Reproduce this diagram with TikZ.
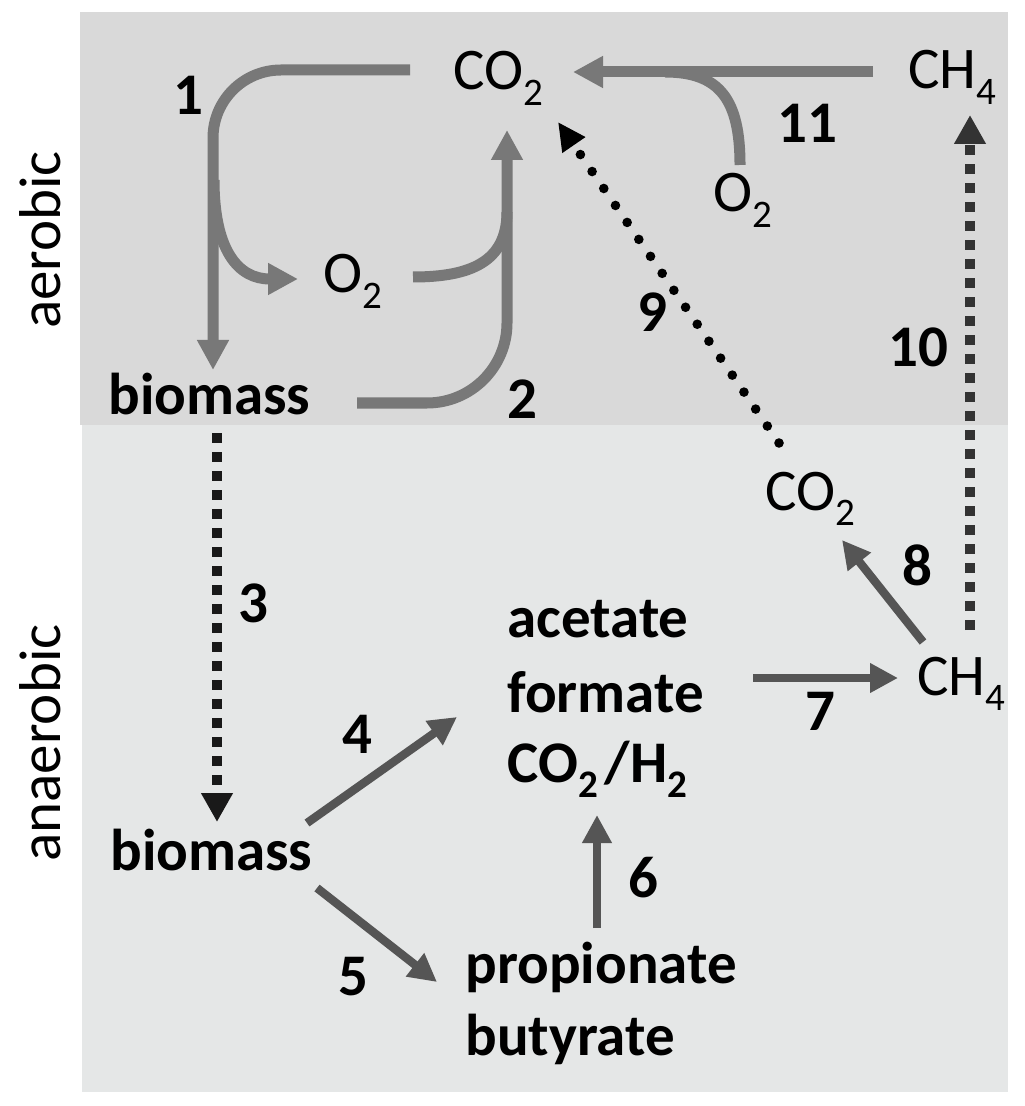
\documentclass[tikz,border=0pt]{standalone}
\usepackage{fontspec}
\setmainfont{Carlito}
\usetikzlibrary{arrows.meta}
\definecolor{aerob}{HTML}{D9D9D9}
\definecolor{anaerob}{HTML}{E5E7E7}
\definecolor{uparrow}{HTML}{787878}
\definecolor{lowarrow}{HTML}{555555}
\newcommand{\chemsub}[1]{\raisebox{-0.26em}{\fontsize{19.5pt}{20pt}\selectfont #1}}
\begin{document}
\begin{tikzpicture}[x=0.5pt,y=-0.5pt,
  lbl/.style={inner sep=0pt, font=\fontsize{29.5pt}{34pt}\selectfont},
  blbl/.style={inner sep=0pt, font=\fontsize{29.5pt}{34pt}\selectfont\bfseries},
  num/.style={blbl, anchor=base},
  txt/.style={lbl, anchor=base west},
  btxt/.style={blbl, anchor=base west},
  side/.style={lbl, anchor=base, rotate=90},
  aeroarrow/.style={draw=uparrow, line width=5.5pt, -{Triangle[length=15pt,width=15pt]}},
  aeroline/.style={draw=uparrow, line width=5.5pt},
  anarrow/.style={draw=lowarrow, line width=4.2pt, -{Triangle[length=14pt,width=14pt]}},
  sqdots/.style={line width=5pt, dash pattern=on 5pt off 4.5pt, -{Triangle[length=14.5pt,width=15pt]}},
  rddots/.style={draw=black, line width=4.8pt, line cap=round, dash pattern=on 0pt off 10.3pt, -{Triangle[length=14pt,width=13pt]}}
]
\fill[white] (0,0) rectangle (1024,1106);
\useasboundingbox (0,0) rectangle (1024,1106);
\fill[aerob] (80,12) rectangle (1008,425);
\fill[anaerob] (82,425) rectangle (1008,1092);

% side labels
\node[side] (aer) at (60,240) {aerobic};
\node[side] (anaer) at (60,743) {anaerobic};

% species
\node[txt] (co2top) at (453,90) {CO\chemsub{2}};
\node[txt] (ch4top) at (908,89) {CH\chemsub{4}};
\node[txt] (o2r) at (713,212) {O\chemsub{2}};
\node[txt] (o2l) at (323,293) {O\chemsub{2}};
\node[btxt] (bio1) at (108,415) {biomass};
\node[btxt] (bio2) at (110,870) {biomass};
\node[txt] (co2low) at (765,510) {CO\chemsub{2}};
\node[txt] (ch4low) at (917,695) {CH\chemsub{4}};
\node[btxt] (acet) at (507,637) {acetate};
\node[btxt] (form) at (507,712) {formate};
\node[btxt] (coh) at (507,782) {CO\chemsub{2}\hspace{0.12em}/H\chemsub{2}};
\node[btxt] (prop) at (465,983) {propionate};
\node[btxt] (buty) at (465,1055) {butyrate};

% numbers
\node[num] (n1) at (188,115) {1};
\node[num] (n2) at (522,418) {2};
\node[num] (n3) at (253,622) {3};
\node[num] (n4) at (357,753) {4};
\node[num] (n5) at (353,995) {5};
\node[num] (n6) at (643,897) {6};
\node[num] (n7) at (820,730) {7};
\node[num] (n8) at (917,585) {8};
\node[num] (n9) at (652,332) {9};
\node[num] (n10) at (918,366) {10};
\node[num] (n11) at (807,143) {11};

% connector end points
\coordinate (a1s) at (410,70);   \coordinate (a1e) at (213,370);
\coordinate (b1s) at (214,180);  \coordinate (b1e) at (298,279);
\coordinate (a2s) at (357,403);  \coordinate (a2e) at (507,130);
\coordinate (b2s) at (413,277);  \coordinate (b2e) at (507,212);
\coordinate (a11s) at (873,72);  \coordinate (a11e) at (573,72);
\coordinate (b11s) at (740,165); \coordinate (b11e) at (665,72);
\coordinate (a3s) at (217,433);  \coordinate (a3e) at (217,822);
\coordinate (a9s) at (779,443);  \coordinate (a9e) at (558,122);
\coordinate (a10s) at (970,630); \coordinate (a10e) at (970,115);
\coordinate (a4s) at (307,823);  \coordinate (a4e) at (457,717);
\coordinate (a5s) at (317,888);  \coordinate (a5e) at (437,982);
\coordinate (a6s) at (597,928);  \coordinate (a6e) at (597,815);
\coordinate (a7s) at (753,678);  \coordinate (a7e) at (898,678);
\coordinate (a8s) at (923,642);  \coordinate (a8e) at (842,540);

% aerobic arrows
\draw[aeroarrow, rounded corners=34pt] (a1s) -| (a1e);
\draw[aeroarrow] (b1s) .. controls (214,250) and (238,279) .. (b1e);
\draw[aeroarrow, rounded corners=40pt] (a2s) -| (a2e);
\draw[aeroline] (b2s) .. controls (470,277) and (507,262) .. (b2e);
\draw[aeroarrow] (a11s) -- (a11e);
\draw[aeroline] (b11s) .. controls (740,100) and (720,72) .. (b11e);

% dotted transfers
\draw[sqdots, draw=black!90] (a3s) -- (a3e);
\draw[rddots] (a9s) -- (a9e);
\draw[sqdots, draw=black!80] (a10s) -- (a10e);

% anaerobic arrows
\draw[anarrow] (a4s) -- (a4e);
\draw[anarrow] (a5s) -- (a5e);
\draw[anarrow] (a6s) -- (a6e);
\draw[anarrow] (a7s) -- (a7e);
\draw[anarrow] (a8s) -- (a8e);
\end{tikzpicture}
\end{document}
